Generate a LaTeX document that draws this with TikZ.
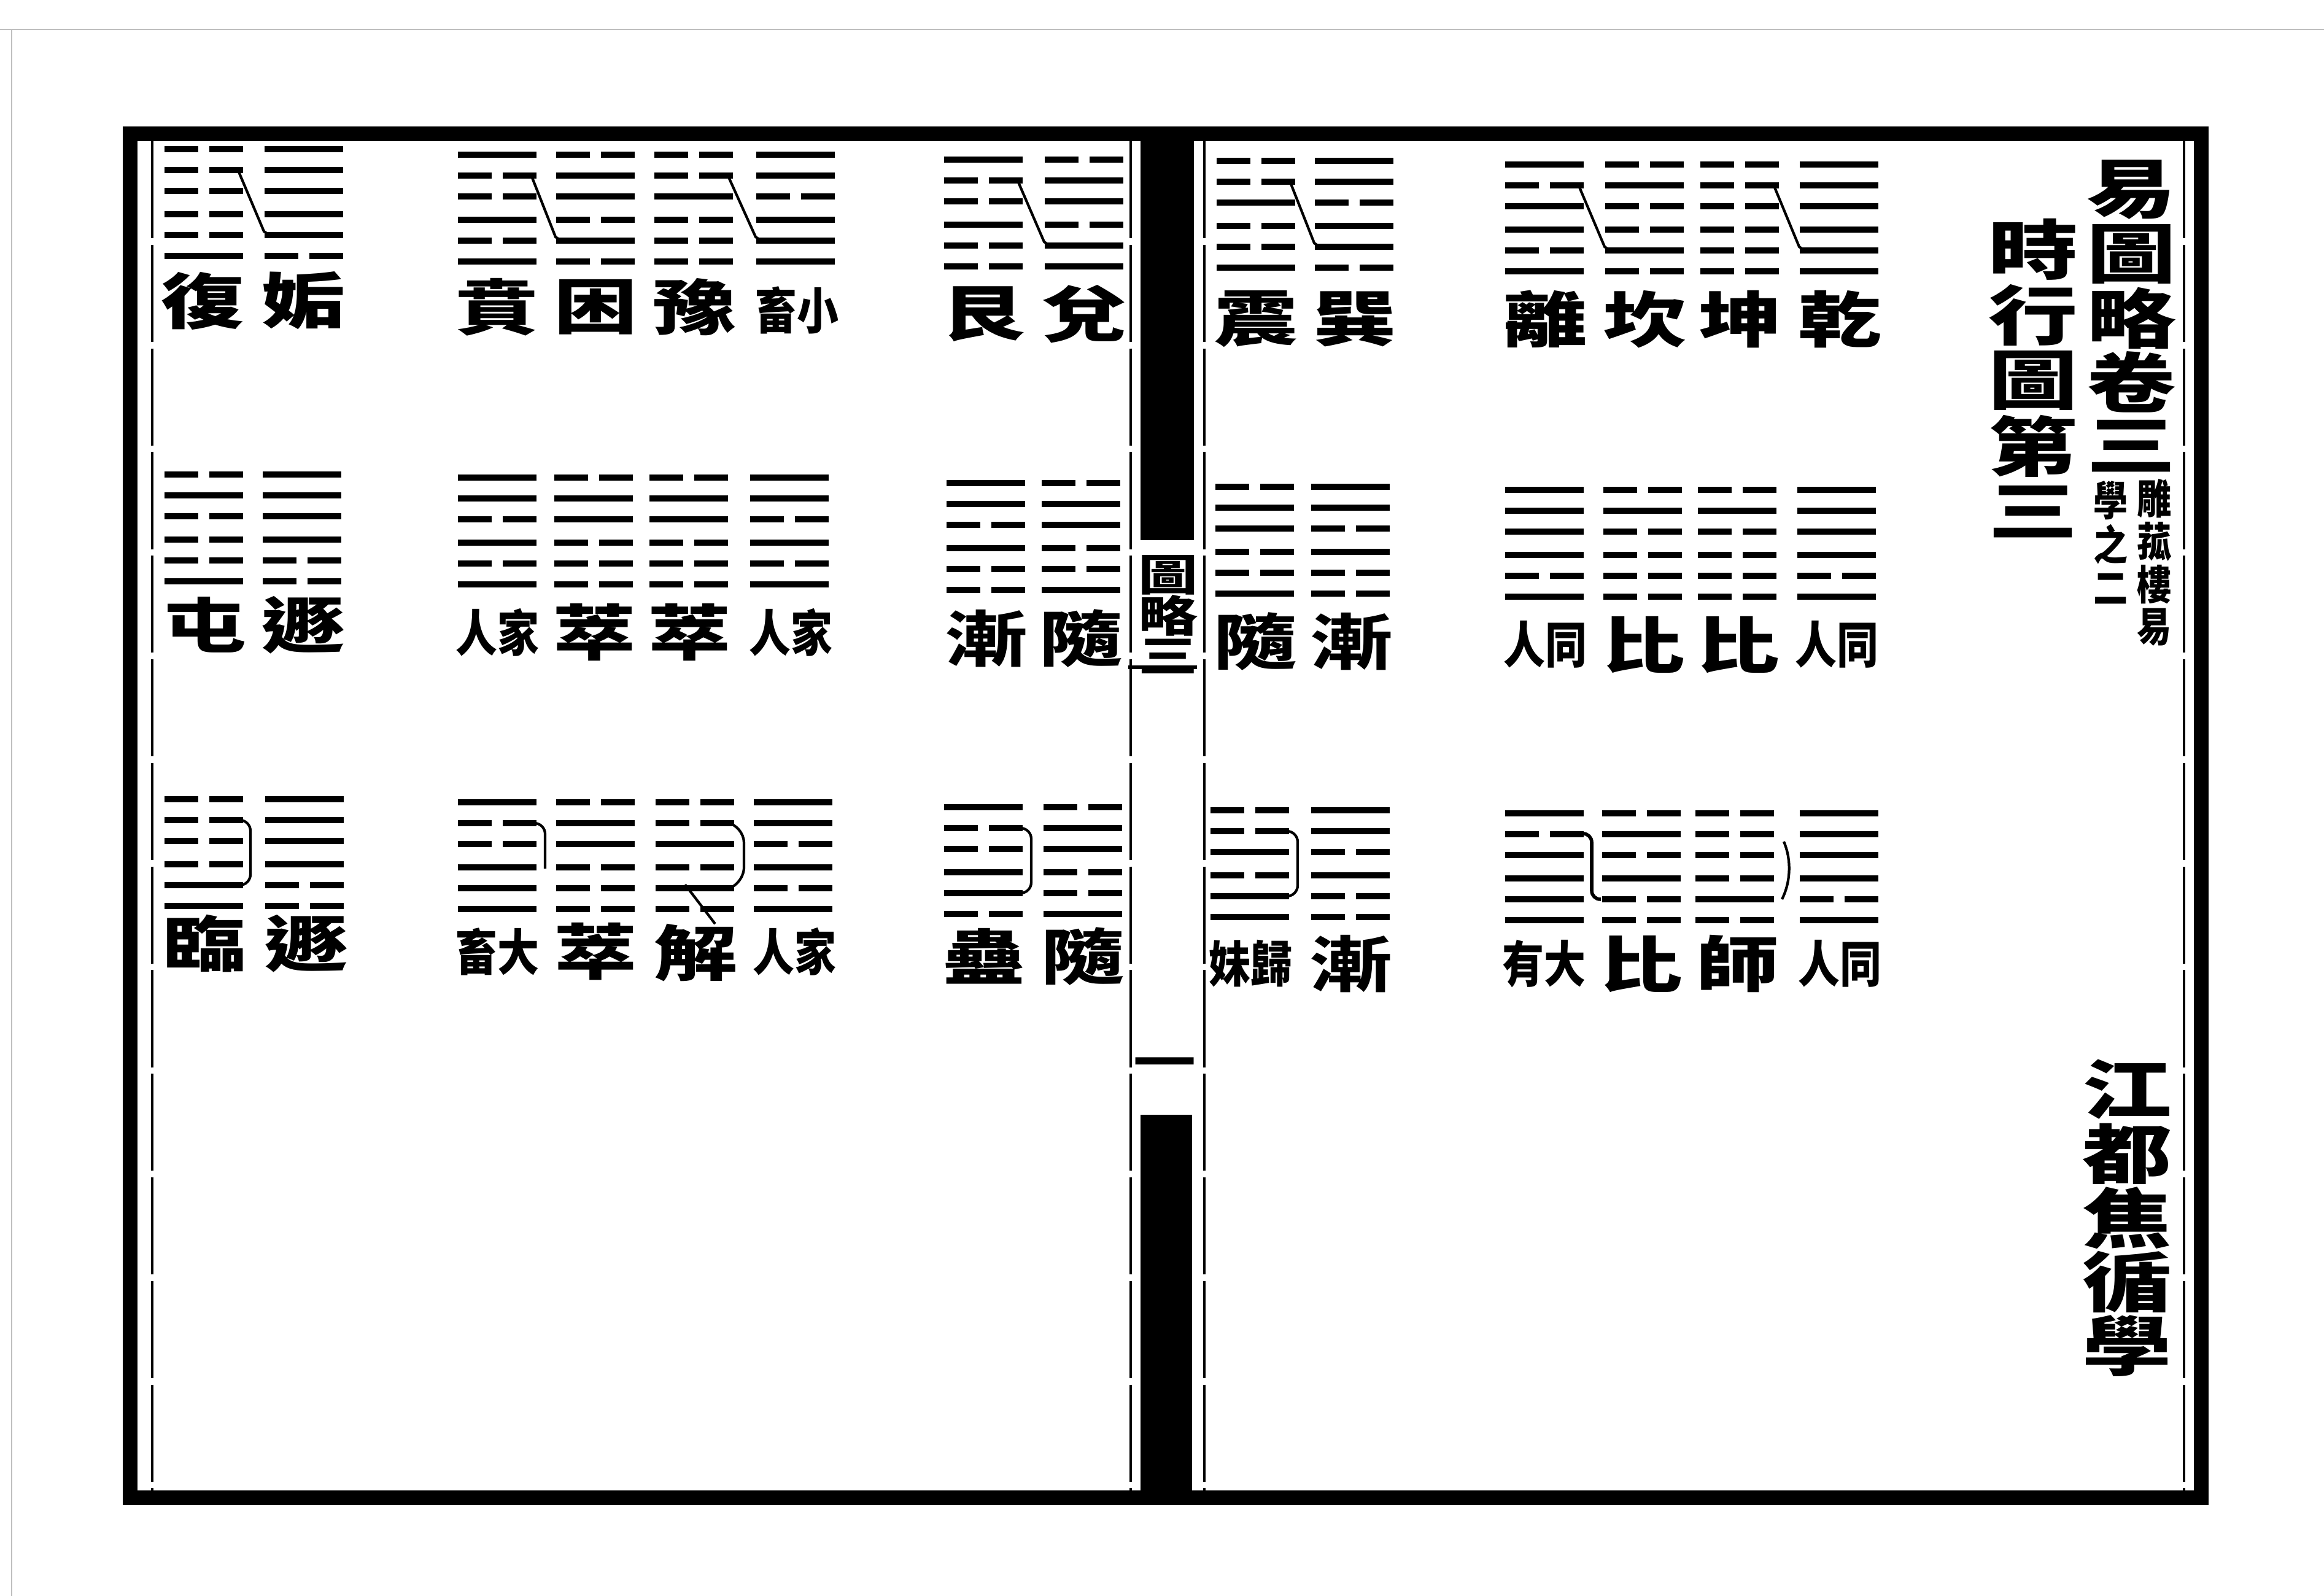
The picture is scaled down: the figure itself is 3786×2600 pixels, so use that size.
\documentclass[tikz,border=0pt]{standalone}
\usepackage{fontspec}
\newfontfamily\bigcjk[FakeStretch=1.38]{Noto Sans CJK TC}
\newfontfamily\smallcjk[FakeStretch=0.84]{Noto Sans CJK TC}
\usetikzlibrary{calc}

% one hexagram: name, left x, top y, lines from top (1 solid, 0 broken)
\newcommand{\gua}[4]{%
  \coordinate (#1) at (#2,#3);
  \foreach \yb [count=\yi] in {#4} {
    \pgfmathsetmacro{\yaoy}{34*(\yi-1)+4*(\yi>3)}
    \ifnum\yb=1
      \draw[yao] ($(#1)+(0,\yaoy)$) -- ++(128,0);
    \else
      \draw[yao] ($(#1)+(0,\yaoy)$) -- ++(55,0) ($(#1)+(73,\yaoy)$) -- ++(55,0);
    \fi
  }%
}

\tikzset{
  yao/.style={line width=3.1pt},
  link/.style={line width=1.2pt},
  jieline/.style={line width=1.4pt, dash pattern=on 45pt off 3pt},
  zi/.style={font=\bigcjk\bfseries\fontsize{28pt}{28pt}\selectfont, inner sep=0pt},
  xiaozi/.style={font=\smallcjk\bfseries\fontsize{23pt}{23pt}\selectfont, inner sep=0pt},
}

\begin{document}
\begin{tikzpicture}[x=0.01cm, y=-0.01cm]
        % Folha
        \fill[white] (0,0) rectangle (3786,2600);
        \useasboundingbox (0,0) rectangle (3786,2600);
        \draw[gray!50, line width=0.8pt] (0,48) -- (3786,48);
        \draw[gray!50, line width=0.8pt] (19,48) -- (19,2600);

        % Moldura e linhas internas
        \draw[line width=7pt] (212,218) rectangle (3586,2440);
        \draw[jieline] (248,230) -- (248,2428);
        \draw[jieline] (1842,230) -- (1842,2428);
        \draw[jieline] (1962,230) -- (1962,2428);
        \draw[jieline] (3558,230) -- (3558,2428);

        % Margem central
        \fill (1858,228) rectangle (1945,880);
        \fill (1858,1816) rectangle (1942,2430);
        \draw[line width=1.8pt] (1838,1087) -- (1950,1087);
        \foreach \c [count=\i] in {圖,略,三}
          \node[zi, font=\bigcjk\bfseries\fontsize{20pt}{20pt}\selectfont] (banxin\i) at (1903,{937+66*(\i-1)}) {\c};
        \node[zi, font=\bigcjk\bfseries\fontsize{21pt}{21pt}\selectfont] (yeshu) at (1897,1740) {一};

        % Títulos
        \foreach \c [count=\i] in {易,圖,略,卷,三}
          \node[zi, font=\bigcjk\bfseries\fontsize{30pt}{30pt}\selectfont] (juan\i) at (3472,{309+104.5*(\i-1)}) {\c};
        \foreach \c [count=\i] in {雕,菰,樓,易}
          \node[xiaozi, font=\smallcjk\bfseries\fontsize{19pt}{19pt}\selectfont] (zhuA\i) at (3510,{812+70*(\i-1)}) {\c};
        \foreach \c [count=\i] in {學,之,二}
          \node[xiaozi, font=\smallcjk\bfseries\fontsize{19pt}{19pt}\selectfont] (zhuB\i) at (3439,{815+72*(\i-1)}) {\c};
        \foreach \c [count=\i] in {時,行,圖,第,三}
          \node[zi, font=\bigcjk\bfseries\fontsize{30pt}{30pt}\selectfont] (tu\i) at (3312,{406+107*(\i-1)}) {\c};
        \foreach \c [count=\i] in {江,都,焦,循,學}
          \node[zi, font=\bigcjk\bfseries\fontsize{30pt}{30pt}\selectfont] (zuozhe\i) at (3465,{1775+104.5*(\i-1)}) {\c};

        % Página direita, linha de cima
        \gua{zhen}{1982}{262}{0,0,1,0,0,1}
        \gua{xun}{2142}{262}{1,1,0,1,1,0}
        \gua{li}{2452}{268}{1,0,1,1,0,1}
        \gua{kan}{2615}{268}{0,1,0,0,1,0}
        \gua{kun}{2770}{268}{0,0,0,0,0,0}
        \gua{qian}{2932}{268}{1,1,1,1,1,1}
        \draw[link] ($(zhen)+(118,30)$) -- ($(xun)+(-1,134)$) -- ($(xun)+(8,140)$);
        \draw[link] ($(li)+(118,30)$) -- ($(kan)+(-1,134)$) -- ($(kan)+(8,140)$);
        \draw[link] ($(kun)+(118,30)$) -- ($(qian)+(-1,134)$) -- ($(qian)+(8,140)$);
        \node[zi] (n-zhen) at (2046,520) {震};
        \node[zi] (n-xun) at (2207,520) {巽};
        \node[zi] (n-li) at (2517,520) {離};
        \node[zi] (n-kan) at (2679,520) {坎};
        \node[zi] (n-kun) at (2835,520) {坤};
        \node[zi] (n-qian) at (2997,520) {乾};

        % Página direita, linha do meio
        \gua{sui}{1980}{793}{0,1,1,0,0,1}
        \gua{jian}{2136}{793}{1,1,0,1,0,0}
        \gua{tongrenA}{2452}{798}{1,1,1,1,0,1}
        \gua{biA}{2612}{798}{0,1,0,0,0,0}
        \gua{biB}{2766}{798}{0,1,0,0,0,0}
        \gua{tongrenB}{2928}{798}{1,1,1,1,0,1}
        \node[zi] (n-sui) at (2045,1045) {隨};
        \node[zi] (n-jian) at (2201,1045) {漸};
        \node[xiaozi] (n-tongrenA) at (2517,1050) {人同};
        \node[zi] (n-biA) at (2677,1050) {比};
        \node[zi] (n-biB) at (2831,1050) {比};
        \node[xiaozi] (n-tongrenB) at (2992,1050) {人同};

        % Página direita, linha de baixo
        \gua{guimei}{1972}{1320}{0,0,1,0,1,1}
        \gua{jianB}{2136}{1320}{1,1,0,1,0,0}
        \gua{dayou}{2452}{1325}{1,0,1,1,1,1}
        \gua{biC}{2610}{1325}{0,1,0,1,0,0}
        \gua{shi}{2762}{1325}{0,0,0,0,1,0}
        \gua{tongrenC}{2932}{1325}{1,1,1,1,0,1}
        \draw[link, rounded corners=5pt] ($(guimei)+(120,34)$) -- ++(22,0) -- ++(0,106) -- ++(-22,0);
        \draw[link, line width=1.6pt, rounded corners=4pt] ($(dayou)+(124,33)$) -- ($(dayou)+(141,33)$) -- ($(dayou)+(141,140)$) -- ($(dayou)+(156,140)$);
        \draw[link] ($(shi)+(144,46)$) .. controls ($(shi)+(156,74)$) and ($(shi)+(156,110)$) .. ($(shi)+(141,140)$);
        \node[xiaozi] (n-guimei) at (2037,1570) {妹歸};
        \node[zi] (n-jianB) at (2200,1570) {漸};
        \node[xiaozi] (n-dayou) at (2515,1570) {有大};
        \node[zi] (n-biC) at (2673,1570) {比};
        \node[zi] (n-shi) at (2830,1570) {師};
        \node[xiaozi] (n-tongrenC) at (2997,1570) {人同};

        % Página esquerda, linha de cima
        \gua{fu}{268}{243}{0,0,0,0,0,1}
        \gua{gou}{431}{243}{1,1,1,1,1,0}
        \gua{bian}{746}{252}{1,0,0,1,0,1}
        \gua{kunB}{906}{252}{0,1,1,0,1,0}
        \gua{yu}{1066}{252}{0,0,1,0,0,0}
        \gua{xiaochu}{1232}{252}{1,1,0,1,1,1}
        \gua{gen}{1538}{260}{1,0,0,1,0,0}
        \gua{dui}{1702}{260}{0,1,1,0,1,1}
        \draw[link] ($(fu)+(118,30)$) -- ($(gou)+(-1,134)$) -- ($(gou)+(8,140)$);
        \draw[link] ($(bian)+(118,30)$) -- ($(kunB)+(-1,134)$) -- ($(kunB)+(8,140)$);
        \draw[link] ($(yu)+(118,30)$) -- ($(xiaochu)+(-1,134)$) -- ($(xiaochu)+(8,140)$);
        \draw[link] ($(gen)+(118,30)$) -- ($(dui)+(-1,134)$) -- ($(dui)+(8,140)$);
        \node[zi] (n-fu) at (330,490) {復};
        \node[zi] (n-gou) at (494,490) {姤};
        \node[zi] (n-bian) at (809,500) {賁};
        \node[zi] (n-kunB) at (970,500) {困};
        \node[zi] (n-yu) at (1131,500) {豫};
        \node[xiaozi] (n-xiaochu) at (1298,505) {畜小};
        \node[zi] (n-gen) at (1601,512) {艮};
        \node[zi] (n-dui) at (1766,512) {兌};

        % Página esquerda, linha do meio
        \gua{zhun}{268}{773}{0,1,0,0,0,1}
        \gua{dun}{428}{773}{1,1,1,1,0,0}
        \gua{jiarenA}{746}{778}{1,1,0,1,0,1}
        \gua{cuiA}{903}{778}{0,1,1,0,0,0}
        \gua{cuiB}{1058}{778}{0,1,1,0,0,0}
        \gua{jiarenB}{1222}{778}{1,1,0,1,0,1}
        \gua{jianC}{1542}{787}{1,1,0,1,0,0}
        \gua{suiB}{1697}{787}{0,1,1,0,0,1}
        \node[zi] (n-zhun) at (333,1018) {屯};
        \node[zi] (n-dun) at (493,1018) {遯};
        \node[xiaozi] (n-jiarenA) at (810,1030) {人家};
        \node[zi] (n-cuiA) at (968,1030) {萃};
        \node[zi] (n-cuiB) at (1123,1030) {萃};
        \node[xiaozi] (n-jiarenB) at (1288,1030) {人家};
        \node[zi] (n-jianC) at (1606,1040) {漸};
        \node[zi] (n-suiB) at (1761,1040) {隨};

        % Página esquerda, linha de baixo
        \gua{lin}{268}{1302}{0,0,0,0,1,1}
        \gua{dunB}{432}{1302}{1,1,1,1,0,0}
        \gua{dachu}{746}{1307}{1,0,0,1,1,1}
        \gua{cuiC}{906}{1307}{0,1,1,0,0,0}
        \gua{jie}{1068}{1307}{0,0,1,0,1,0}
        \gua{jiarenC}{1228}{1307}{1,1,0,1,0,1}
        \gua{gu}{1538}{1315}{1,0,0,1,1,0}
        \gua{suiC}{1700}{1315}{0,1,1,0,0,1}
        \draw[link, rounded corners=5pt] ($(lin)+(120,34)$) -- ++(20,0) -- ++(0,106) -- ++(-20,0);
        \draw[link, rounded corners=5pt] ($(dachu)+(120,34)$) -- ++(22,0) -- ++(0,74);
        \draw[link, rounded corners=8pt] ($(jie)+(122,34)$) -- ++(22,4) -- ++(0,96) -- ++(-30,8);
        \draw[link] ($(jie)+(48,134)$) -- ($(jie)+(97,198)$);
        \draw[link, rounded corners=5pt] ($(gu)+(120,34)$) -- ++(22,0) -- ++(0,106) -- ++(-22,0);
        \node[zi] (n-lin) at (333,1537) {臨};
        \node[zi] (n-dunB) at (498,1537) {遯};
        \node[xiaozi] (n-dachu) at (810,1550) {畜大};
        \node[zi] (n-cuiC) at (970,1550) {萃};
        \node[zi] (n-jie) at (1133,1552) {解};
        \node[xiaozi] (n-jiarenC) at (1294,1550) {人家};
        \node[zi] (n-gu) at (1603,1558) {蠱};
        \node[zi] (n-suiC) at (1764,1558) {隨};
    \end{tikzpicture}
\end{document}
